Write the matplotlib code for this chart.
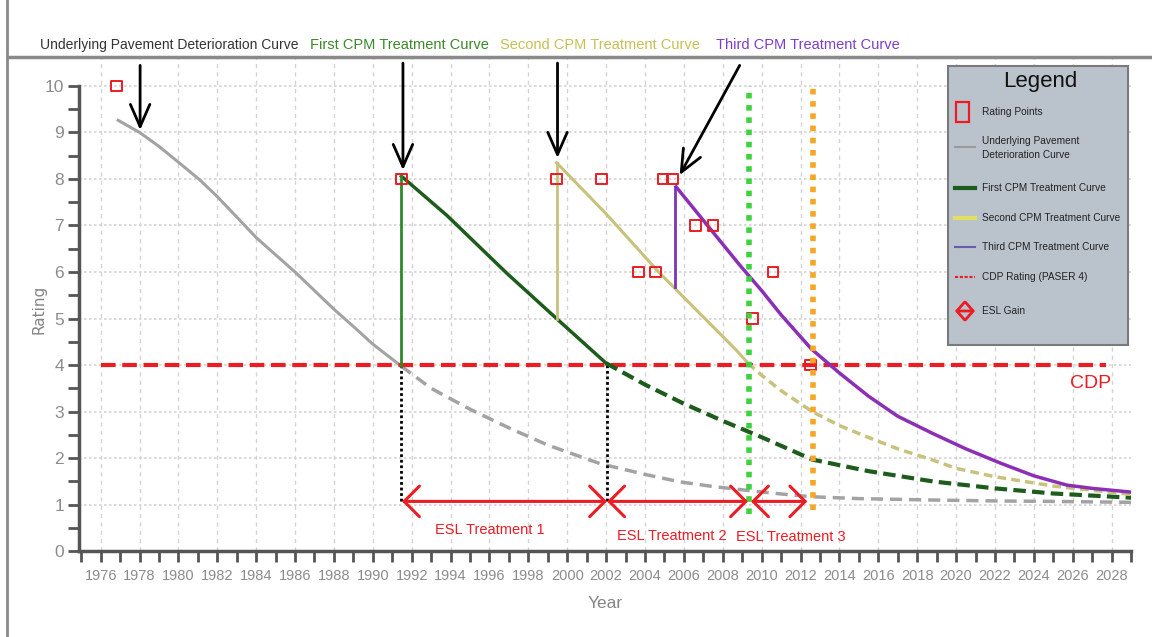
import matplotlib.pyplot as plt
from matplotlib.lines import Line2D
from matplotlib.patches import Rectangle, FancyArrowPatch
import numpy as np

# underlying pavement deterioration curve (solid part, then dashed part)
under_years = [1976.9, 1978, 1979, 1980, 1981.1, 1982, 1983.3, 1984, 1985, 1986, 1987, 1988, 1989, 1990, 1991.45]
under_vals = [9.26, 9.0, 8.7, 8.36, 7.98, 7.62, 7.05, 6.74, 6.37, 6.0, 5.6, 5.2, 4.83, 4.45, 3.98]
under_dash_years = [1991.45, 1993, 1995, 1997, 1999, 2001.7, 2004, 2005.8, 2007.5, 2009.2, 2011, 2012.6, 2015, 2018.8, 2022, 2025, 2029]
under_dash_vals = [3.98, 3.5, 3.05, 2.65, 2.28, 1.88, 1.65, 1.49, 1.39, 1.31, 1.23, 1.17, 1.13, 1.10, 1.08, 1.07, 1.05]

# first CPM treatment
first_years = [1991.47, 1993.8, 1996.9, 1999.45, 2002.0]
first_vals = [8.06, 7.22, 5.97, 5.0, 4.04]
first_dash_years = [2002.0, 2004, 2006, 2008, 2010, 2012.6, 2015.5, 2018.8, 2022, 2025, 2029]
first_dash_vals = [4.04, 3.58, 3.17, 2.8, 2.45, 1.97, 1.72, 1.5, 1.35, 1.24, 1.15]

# second CPM treatment
second_years = [1999.45, 2002, 2004.7, 2008.7, 2009.3]
second_vals = [8.35, 7.25, 6.0, 4.32, 4.04]
second_dash_years = [2009.3, 2010, 2011, 2012.6, 2014, 2015.4, 2017, 2018.8, 2020, 2022, 2025, 2029]
second_dash_vals = [4.04, 3.78, 3.45, 3.0, 2.7, 2.46, 2.2, 1.96, 1.78, 1.6, 1.4, 1.22]

# third CPM treatment
third_years = [2005.6, 2008.87, 2010, 2011, 2012.55, 2014, 2015.5, 2017, 2018.8, 2020.5, 2022.3, 2024, 2025.7, 2027, 2029]
third_vals = [7.83, 6.15, 5.6, 5.08, 4.35, 3.83, 3.33, 2.9, 2.53, 2.2, 1.89, 1.62, 1.42, 1.35, 1.27]

# rating points
pt_years = [1976.8, 1991.47, 1999.45, 2001.76, 2003.67, 2004.55, 2004.93, 2005.4, 2006.6, 2007.5, 2009.52, 2010.58, 2012.5]
pt_vals = [10, 8, 8, 8, 6, 6, 8, 8, 7, 7, 5, 6, 4]

# treatment years (vertical jumps)
jump_years = [1991.47, 1999.45, 2005.55]
jump_low = [3.98, 5.0, 5.67]
jump_high = [8.06, 8.35, 7.83]

cdp_rating = 4
esl_starts = [1991.5, 2002.05, 2009.45]
esl_ends = [2002.05, 2009.3, 2012.35]
esl_labels = ['ESL Treatment 1', 'ESL Treatment 2', 'ESL Treatment 3']
esl_label_x = [1996.0, 2005.4, 2011.5]
esl_label_y = [0.46, 0.33, 0.30]

legend_labels = ['Rating Points', 'Underlying Pavement\nDeterioration Curve', 'First CPM Treatment Curve',
                 'Second CPM Treatment Curve', 'Third CPM Treatment Curve', 'CDP Rating (PASER 4)', 'ESL Gain']

plt.rcParams['font.family'] = ['Liberation Sans', 'DejaVu Sans']

W, H = 1152, 637
fig = plt.figure(figsize=(W / 100, H / 100), dpi=100)
ax = fig.add_axes([0.0688, 0.1347, 0.913, 0.7743])


def fx(px):
    return px / W


def fy(py):
    return 1 - py / H


c_grey = '#a3a3a3'
c_green_d = '#1d5c1d'
c_yellow = '#c9c27c'
c_purple = '#8b2fb5'
c_red = '#ec1c24'

ax.plot(under_years, under_vals, color=c_grey, lw=2.2, zorder=3)
ax.plot(under_dash_years, under_dash_vals, color=c_grey, lw=2.5, ls=(0, (3.5, 2)), zorder=3)

ax.plot([1976.0, 2027.7], [cdp_rating, cdp_rating], color=c_red, lw=3, ls=(0, (3.5, 1.6)), zorder=4)

ax.plot(first_years, first_vals, color=c_green_d, lw=2.5, zorder=5)
ax.plot(first_dash_years, first_dash_vals, color=c_green_d, lw=3, ls=(0, (3, 1.5)), zorder=5)
ax.plot(second_years, second_vals, color=c_yellow, lw=2.2, zorder=5)
ax.plot(second_dash_years, second_dash_vals, color=c_yellow, lw=2.5, ls=(0, (2.5, 1.5)), zorder=5)
ax.plot(third_years, third_vals, color=c_purple, lw=2.5, zorder=5)

jump_colors = ['#2f8a2a', c_yellow, '#7a35b8']
for x, lo, hi, c in zip(jump_years, jump_low, jump_high, jump_colors):
    ax.plot([x, x], [lo, hi], color=c, lw=2, zorder=5)

# black dotted drop lines to the ESL arrows
for x, top in [(1991.47, 3.98), (2002.05, 4.04)]:
    ax.plot([x, x], [1.07, top], color='black', lw=2, ls=(0, (1, 1)), zorder=4)

ax.plot([2009.35, 2009.35], [0.8, 10], color='#3ed23e', lw=4, ls=(0, (1, 1.2)), zorder=6)
ax.plot([2012.65, 2012.65], [0.88, 10], color='#f6a623', lw=4, ls=(0, (1, 1.2)), zorder=6)

ax.scatter(pt_years, pt_vals, marker='s', s=60, facecolors='none', edgecolors=c_red, linewidths=1.4, zorder=5)

for x0, x1 in zip(esl_starts, esl_ends):
    ax.annotate('', xy=(x1, 1.07), xytext=(x0, 1.07),
                arrowprops=dict(arrowstyle='<->,head_length=0.55,head_width=0.55', color=c_red, lw=2.2,
                                mutation_scale=20, shrinkA=0, shrinkB=0), zorder=7)
for lab, x, y in zip(esl_labels, esl_label_x, esl_label_y):
    ax.text(x, y, lab, color=c_red, fontsize=10.5, ha='center', va='center')

ax.text(2026.9, 3.6, 'CDP', color=c_red, fontsize=14, ha='center', va='center')

# pointer arrows from the titles
pointers = [((1978.03, 10.44), (1978.03, 9.05)),
            ((1991.55, 10.49), (1991.55, 8.19)),
            ((1999.5, 10.49), (1999.5, 8.45)),
            ((2008.87, 10.44), (2005.78, 8.08))]
for start, end in pointers:
    ax.annotate('', xy=end, xytext=start,
                arrowprops=dict(arrowstyle='->,head_length=0.8,head_width=0.35', color='black', lw=2,
                                mutation_scale=20, shrinkA=0, shrinkB=0), zorder=8)

ax.set_xlim(1974.9, 2029.0)
ax.set_ylim(0, 10.6)
ax.set_xticks(np.arange(1976, 2029, 2))
ax.set_xticks(np.arange(1975, 2030, 2), minor=True)
ax.set_yticks(np.arange(0, 11, 1))
ax.set_yticks(np.arange(0.5, 10, 1), minor=True)
ax.grid(axis='x', which='major', color='#d4d4d4', ls=(0, (3, 3)), lw=1)
ax.grid(axis='y', which='major', color='#d4d4d4', ls=(0, (1.5, 1.5)), lw=1.2)
ax.set_axisbelow(True)

for s in ['top', 'right']:
    ax.spines[s].set_visible(False)
for s in ['left', 'bottom']:
    ax.spines[s].set_color('#555555')
    ax.spines[s].set_linewidth(2.5)
ax.spines['left'].set_bounds(0, 10)
ax.tick_params(which='both', color='#555555', width=2, length=8, labelcolor='#8c8c8c')
ax.tick_params(axis='x', labelsize=10.5, pad=5)
ax.tick_params(axis='y', labelsize=12.5, pad=3)

ax.set_xlabel('Year', color='#858585', fontsize=12.5, labelpad=9)
ax.set_ylabel('Rating', color='#858585', fontsize=11, family='DejaVu Sans')
ax.yaxis.set_label_coords(-0.031, 0.49)

# titles above the plot
title_y = fy(45)
fig.text(fx(169), title_y, 'Underlying Pavement Deterioration Curve', color='#333333', fontsize=10, ha='center', va='center')
fig.text(fx(399), title_y, 'First CPM Treatment Curve', color='#3a8a2a', fontsize=10.5, ha='center', va='center')
fig.text(fx(600), title_y, 'Second CPM Treatment Curve', color='#c9c054', fontsize=10.5, ha='center', va='center')
fig.text(fx(808), title_y, 'Third CPM Treatment Curve', color='#7d3fc8', fontsize=10.5, ha='center', va='center')

# chart frame
fig.add_artist(Line2D([fx(8), 1], [fy(57)] * 2, color='#8a8a8a', lw=2.5))
fig.add_artist(Line2D([fx(7)] * 2, [0, 1], color='#8a8a8a', lw=2))

# legend box, drawn in figure pixels
fig.add_artist(Rectangle((fx(948), fy(345)), fx(1128) - fx(948), fy(66) - fy(345), transform=fig.transFigure,
                         facecolor='#bac3cc', edgecolor='#7a7a7a', lw=1.5, zorder=10))
fig.text(fx(1040), fy(82), 'Legend', fontsize=16, ha='center', va='center', color='#111111', zorder=11)
entry_y = [112, 148, 188, 218, 247, 277, 311]
for lab, py in zip(legend_labels, entry_y):
    fig.text(fx(982), fy(py), lab, fontsize=7.3, ha='left', va='center', color='#222222',
             linespacing=1.45, zorder=11)
fig.add_artist(Rectangle((fx(956), fy(122)), fx(13), 20 / H, transform=fig.transFigure,
                         facecolor='none', edgecolor=c_red, lw=1.6, zorder=11))
legend_lines = [(147, '#9a9a9a', 1.5, '-'), (188, c_green_d, 3, '-'), (218, '#e3de66', 3, '-'),
                (247, '#6a5ab0', 1.5, '-'), (277, c_red, 1.5, (0, (1.5, 0.8)))]
for py, c, lw, ls in legend_lines:
    fig.add_artist(Line2D([fx(955), fx(975)], [fy(py)] * 2, color=c, lw=lw, ls=ls, zorder=11))
fig.add_artist(FancyArrowPatch((fx(955), fy(311)), (fx(975), fy(311)), transform=fig.transFigure,
                               arrowstyle='<->,head_length=0.35,head_width=0.4', mutation_scale=16,
                               color=c_red, lw=2, shrinkA=0, shrinkB=0, zorder=11))

fig.savefig('out.png', dpi=100)
